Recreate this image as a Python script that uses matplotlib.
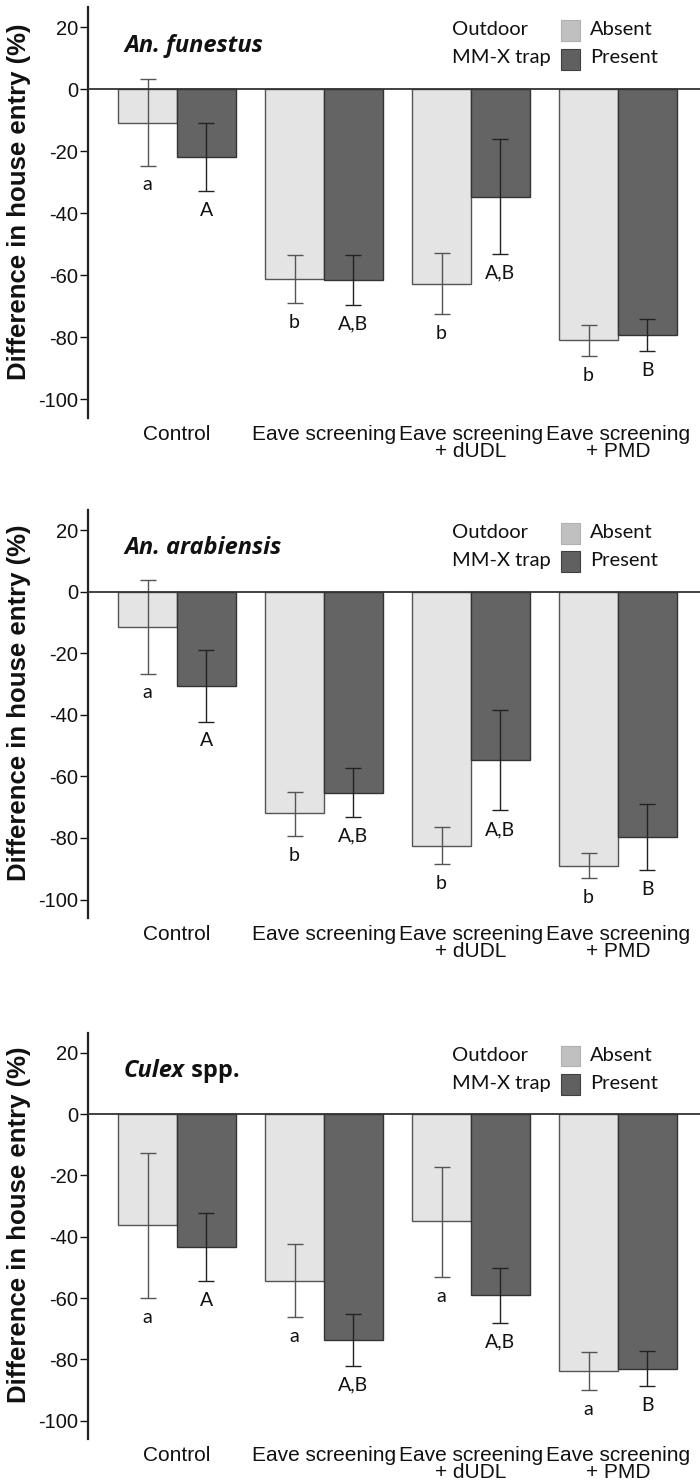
import matplotlib
matplotlib.use("Agg")
import matplotlib.pyplot as plt
from matplotlib.patches import Rectangle
import numpy as np

categories = ["Control", "Eave screening", "Eave screening\n+ dUDL", "Eave screening\n+ PMD"]
yticks = [20, 0, -20, -40, -60, -80, -100]

# An. funestus
fun_absent = [-10.8, -61.1, -62.7, -81.0]
fun_absent_lo = [-24.6, -68.9, -72.5, -86.0]
fun_absent_hi = [3.2, -53.3, -52.8, -75.9]
fun_present = [-21.8, -61.6, -34.6, -79.4]
fun_present_lo = [-32.9, -69.5, -53.0, -84.5]
fun_present_hi = [-11.0, -53.3, -16.2, -74.2]
fun_letters_absent = ["a", "b", "b", "b"]
fun_letters_present = ["A", "A,B", "A,B", "B"]

# An. arabiensis
ara_absent = [-11.4, -72.0, -82.6, -89.0]
ara_absent_lo = [-26.6, -79.3, -88.4, -93.1]
ara_absent_hi = [3.8, -65.0, -76.6, -84.8]
ara_present = [-30.5, -65.4, -54.8, -79.8]
ara_present_lo = [-42.2, -73.1, -71.0, -90.4]
ara_present_hi = [-18.9, -57.3, -38.4, -69.0]
ara_letters_absent = ["a", "b", "b", "b"]
ara_letters_present = ["A", "A,B", "A,B", "B"]

# Culex spp.
cul_absent = [-36.3, -54.4, -34.8, -83.7]
cul_absent_lo = [-60.0, -66.3, -53.2, -90.1]
cul_absent_hi = [-12.8, -42.3, -17.2, -77.6]
cul_present = [-43.2, -73.6, -59.0, -83.1]
cul_present_lo = [-54.3, -82.1, -68.0, -88.8]
cul_present_hi = [-32.1, -65.1, -50.1, -77.2]
cul_letters_absent = ["a", "a", "a", "a"]
cul_letters_present = ["A", "A,B", "A,B", "B"]

panels = [
    dict(title=[("An. funestus", "italic")],
         absent=(fun_absent, fun_absent_lo, fun_absent_hi, fun_letters_absent),
         present=(fun_present, fun_present_lo, fun_present_hi, fun_letters_present),
         top=7, bottom=418),
    dict(title=[("An. arabiensis", "italic")],
         absent=(ara_absent, ara_absent_lo, ara_absent_hi, ara_letters_absent),
         present=(ara_present, ara_present_lo, ara_present_hi, ara_letters_present),
         top=510, bottom=918),
    dict(title=[("Culex", "italic"), (" spp.", "normal")],
         absent=(cul_absent, cul_absent_lo, cul_absent_hi, cul_letters_absent),
         present=(cul_present, cul_present_lo, cul_present_hi, cul_letters_present),
         top=1033, bottom=1439),
]

W, H = 700, 1484
fig = plt.figure(figsize=(W / 100, H / 100), dpi=100)

AX_FONT = "Liberation Sans"
LBL_FONT = "Lato"
TITLE_FONT = "Open Sans"
light, dark = "#e4e4e4", "#646464"

x = np.arange(len(categories))
bw = 0.40

for p in panels:
    ax = fig.add_axes([88 / W, 1 - p["bottom"] / H, 1 - 88 / W, (p["bottom"] - p["top"]) / H])
    ax.set_xlim(-0.605, 3.558)
    ax.set_ylim(-106, 26.5)
    for s in ["top", "right", "bottom"]:
        ax.spines[s].set_visible(False)
    ax.spines["left"].set_linewidth(1.6)
    ax.spines["left"].set_color("#222222")

    for (vals, lo, hi, letters), off, fc, ec, errc in [
        (p["absent"], -bw / 2, light, "#555555", "#555555"),
        (p["present"], bw / 2, dark, "#333333", "#222222"),
    ]:
        vals = np.array(vals); lo = np.array(lo); hi = np.array(hi)
        ax.bar(x + off, vals, width=bw, color=fc, edgecolor=ec, linewidth=1.0, zorder=2)
        ax.errorbar(x + off, vals, yerr=[vals - lo, hi - vals], fmt="none",
                    ecolor=errc, elinewidth=1.0, capsize=5.5, capthick=1.0, zorder=3)
        for xi, l, t in zip(x + off, lo, letters):
            ax.annotate(t, (xi, l), xytext=(0, -14), textcoords="offset points",
                        ha="center", va="center", fontsize=14, family=LBL_FONT,
                        color="#111111")

    ax.axhline(0, color="#333333", lw=1.3, zorder=4)

    ax.set_yticks(yticks)
    ax.set_yticklabels([str(v) for v in yticks], family=AX_FONT, fontsize=14.5)
    ax.tick_params(axis="y", direction="out", length=6, width=1.0, pad=1, colors="#111111")
    ax.set_xticks(x)
    ax.set_xticklabels(categories, family=AX_FONT, fontsize=15, linespacing=0.9)
    ax.tick_params(axis="x", length=0, pad=5, colors="#111111")

    # title
    tx = -0.36
    t_obj = None
    for txt, style in p["title"]:
        if t_obj is None:
            t_obj = ax.text(tx, 14, txt, ha="left", va="center", fontsize=17,
                            fontweight="bold", fontstyle=style, family=TITLE_FONT, color="#111111")
        else:
            t_obj = ax.annotate(txt, xycoords=t_obj, xy=(1, 0.5), va="center", ha="left",
                                fontsize=17, fontweight="bold", fontstyle=style,
                                family=TITLE_FONT, color="#111111")

    # legend
    ax.text(1.869, 19.2, "Outdoor", ha="left", va="center", fontsize=14.5, family=LBL_FONT, color="#111111")
    ax.text(1.869, 10.1, "MM-X trap", ha="left", va="center", fontsize=14.5, family=LBL_FONT, color="#111111")
    ax.add_patch(Rectangle((2.61, 15.6), 0.131, 6.8, facecolor="#c0c0c0", edgecolor="#b0b0b0", lw=0.8, clip_on=False))
    ax.add_patch(Rectangle((2.61, 6.3), 0.131, 6.8, facecolor="#606060", edgecolor="#404040", lw=0.8, clip_on=False))
    ax.text(2.81, 19.2, "Absent", ha="left", va="center", fontsize=14.5, family=LBL_FONT, color="#111111")
    ax.text(2.81, 10.1, "Present", ha="left", va="center", fontsize=14.5, family=LBL_FONT, color="#111111")

    # y label
    yc = (p["top"] + p["bottom"]) / 2 - 11
    fig.text(19 / W, 1 - yc / H, "Difference in house entry (%)", rotation=90,
             ha="center", va="center", fontsize=18.5, fontweight="bold", family=AX_FONT,
             color="#111111")

fig.savefig("out.png", dpi=100)
